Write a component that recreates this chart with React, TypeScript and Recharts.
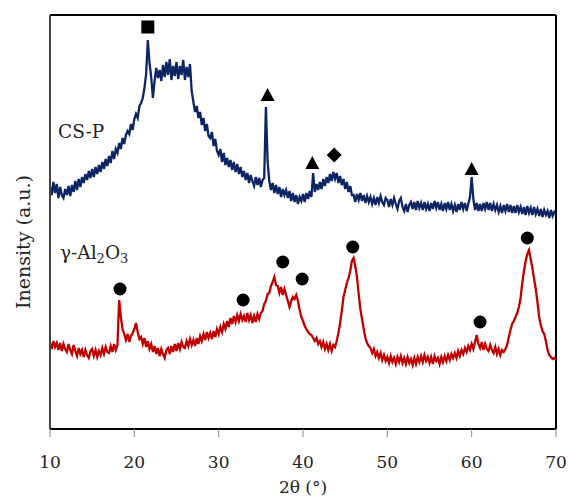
import React from 'react';
import {
  ComposedChart,
  Line,
  Scatter,
  XAxis,
  YAxis,
  ReferenceLine,
} from 'recharts';

// 2θ sampling of the digitised patterns: 10° to 70° every 0.2°
const angleStart = 10;
const angleStep = 0.2;

// CS-P intensity (a.u.), one value per 0.2°
const cspValues = [
  242, 234, 247, 236, 245, 231, 242, 234, 231, 240,
  234, 243, 233, 244, 237, 248, 239, 250, 242, 252,
  246, 255, 249, 258, 251, 260, 252, 262, 255, 264,
  257, 267, 260, 270, 263, 273, 266, 278, 270, 280,
  276, 286, 280, 291, 285, 294, 298, 295, 305, 299,
  310, 315, 311, 323, 326, 331, 341, 355, 389, 366,
  352, 331, 348, 361, 351, 359, 348, 364, 352, 367,
  354, 370, 349, 363, 353, 367, 350, 363, 354, 369,
  349, 362, 352, 365, 338, 327, 317, 323, 311, 317,
  304, 311, 298, 305, 293, 291, 297, 283, 290, 278,
  274, 280, 267, 276, 264, 271, 262, 269, 259, 267,
  257, 265, 255, 262, 252, 258, 249, 256, 246, 254,
  248, 243, 252, 244, 251, 242, 249, 251, 322, 268,
  248, 239, 246, 236, 244, 235, 242, 232, 240, 234,
  239, 231, 238, 228, 236, 227, 234, 225, 232, 228,
  235, 227, 236, 230, 238, 232, 256, 237, 245, 239,
  247, 240, 250, 243, 252, 246, 255, 248, 257, 250,
  256, 246, 253, 244, 250, 240, 247, 237, 243, 234,
  234, 227, 235, 229, 236, 228, 234, 226, 233, 227,
  232, 225, 231, 224, 232, 226, 233, 227, 224, 231,
  229, 222, 230, 224, 231, 225, 220, 228, 231, 222,
  218, 225, 217, 224, 227, 220, 227, 219, 228, 221,
  226, 219, 227, 220, 225, 218, 226, 220, 228, 221,
  227, 219, 225, 218, 226, 220, 227, 219, 225, 218,
  224, 217, 225, 219, 227, 220, 226, 218, 225, 232,
  252, 230, 219, 226, 218, 225, 218, 226, 220, 227,
  219, 226, 218, 225, 219, 224, 217, 223, 216, 224,
  218, 225, 217, 224, 216, 223, 216, 224, 217, 222,
  215, 222, 214, 223, 216, 221, 214, 222, 215, 220,
  213, 220, 212, 219, 214, 218, 211, 219, 213, 217,
  215,
];

// γ-Al2O3 intensity (a.u.), one value per 0.2°
const aluminaValues = [
  86, 80, 88, 82, 86, 79, 86, 78, 85, 80,
  77, 85, 79, 75, 84, 78, 73, 81, 75, 79,
  72, 79, 74, 71, 78, 80, 73, 79, 72, 78,
  74, 81, 75, 82, 77, 76, 83, 77, 85, 79,
  84, 129, 112, 100, 95, 89, 95, 87, 93, 96,
  100, 106, 97, 90, 92, 85, 91, 82, 88, 80,
  85, 77, 83, 75, 81, 73, 80, 75, 71, 79,
  81, 75, 83, 77, 85, 78, 86, 80, 87, 82,
  81, 88, 83, 90, 84, 89, 83, 91, 85, 93,
  88, 95, 89, 97, 91, 96, 90, 98, 92, 100,
  95, 102, 97, 105, 100, 108, 102, 111, 105, 113,
  107, 114, 108, 115, 109, 113, 107, 116, 109, 114,
  106, 113, 107, 115, 110, 116, 118, 125, 128, 135,
  136, 143, 147, 152, 144, 143, 136, 142, 134, 140,
  134, 128, 122, 128, 132, 130, 134, 128, 119, 112,
  108, 103, 100, 97, 95, 94, 91, 88, 91, 85,
  88, 82, 87, 80, 85, 79, 85, 78, 84, 82,
  88, 96, 106, 118, 132, 139, 146, 151, 158, 168,
  171, 163, 152, 135, 120, 110, 100, 91, 86, 83,
  81, 76, 80, 73, 77, 71, 76, 69, 74, 68,
  72, 66, 73, 67, 71, 65, 72, 67, 73, 66,
  71, 65, 72, 66, 70, 64, 71, 65, 72, 67,
  73, 67, 74, 68, 72, 66, 72, 65, 73, 68,
  71, 65, 72, 67, 73, 68, 74, 69, 75, 71,
  76, 71, 78, 73, 79, 75, 81, 77, 83, 79,
  85, 80, 87, 94, 85, 81, 87, 79, 85, 80,
  78, 84, 79, 76, 82, 75, 80, 74, 79, 77,
  80, 84, 92, 99, 105, 108, 112, 116, 122, 131,
  146, 158, 168, 175, 179, 170, 161, 150, 140, 127,
  112, 104, 98, 95, 88, 79, 74, 72, 70, 71,
  69,
];

// phase markers (angle in °, height in a.u.)
const squareMarks = [{ angle: 21.6, level: 402 }];
const triangleMarks = [
  { angle: 35.8, level: 334 },
  { angle: 41.1, level: 266 },
  { angle: 60.0, level: 260 },
];
const diamondMarks = [{ angle: 43.7, level: 274 }];
const circleMarks = [
  { angle: 18.3, level: 140 },
  { angle: 32.9, level: 129 },
  { angle: 37.6, level: 167 },
  { angle: 39.9, level: 150 },
  { angle: 45.9, level: 182 },
  { angle: 61.0, level: 107 },
  { angle: 66.6, level: 191 },
];

const xTicks = [10, 20, 30, 40, 50, 60, 70];

const chartData = cspValues.map((v, i) => ({
  angle: +(angleStart + i * angleStep).toFixed(1),
  csp: v,
  alumina: aluminaValues[i],
}));

const FONT = 'DejaVu Serif';

const Square = (p: any) => (
  <rect x={p.cx - 6.5} y={p.cy - 6.5} width={13} height={13} fill="#000" />
);
const Triangle = (p: any) => (
  <polygon
    points={`${p.cx},${p.cy - 7} ${p.cx - 7},${p.cy + 6} ${p.cx + 7},${p.cy + 6}`}
    fill="#000"
  />
);
const Diamond = (p: any) => (
  <polygon
    points={`${p.cx},${p.cy - 7.5} ${p.cx + 7.5},${p.cy} ${p.cx},${p.cy + 7.5} ${p.cx - 7.5},${p.cy}`}
    fill="#000"
  />
);
const Circle = (p: any) => <circle cx={p.cx} cy={p.cy} r={6.5} fill="#000" />;

export default function App() {
  return (
    <div style={{ position: 'absolute', left: 0, top: 0, width: 568, height: 496, background: '#fff' }}>
      <ComposedChart
        width={568}
        height={496}
        data={chartData}
        margin={{ top: 15, right: 12, bottom: 0, left: 0 }}
      >
        <XAxis
          type="number"
          dataKey="angle"
          domain={[10, 70]}
          ticks={xTicks}
          height={67}
          axisLine={{ stroke: '#000', strokeWidth: 2 }}
          tickLine={{ stroke: '#888' }}
          tickSize={8}
          tickMargin={19}
          tick={{ fontFamily: FONT, fontSize: 17, fill: '#222' }}
        />
        <YAxis
          type="number"
          domain={[0, 414]}
          width={50}
          tick={false}
          tickLine={false}
          axisLine={{ stroke: '#444', strokeWidth: 2 }}
        />
        <ReferenceLine y={414} stroke="#000" strokeWidth={2} />
        <ReferenceLine x={70} stroke="#000" strokeWidth={2} />
        <Line
          type="linear"
          dataKey="alumina"
          stroke="#c00000"
          strokeWidth={2.3}
          dot={false}
          isAnimationActive={false}
        />
        <Line
          type="linear"
          dataKey="csp"
          stroke="#0b2463"
          strokeWidth={2.3}
          dot={false}
          isAnimationActive={false}
        />
        <Scatter data={squareMarks} dataKey="level" shape={Square} isAnimationActive={false} />
        <Scatter data={triangleMarks} dataKey="level" shape={Triangle} isAnimationActive={false} />
        <Scatter data={diamondMarks} dataKey="level" shape={Diamond} isAnimationActive={false} />
        <Scatter data={circleMarks} dataKey="level" shape={Circle} isAnimationActive={false} />
      </ComposedChart>
      <svg
        width={568}
        height={496}
        style={{ position: 'absolute', left: 0, top: 0, pointerEvents: 'none' }}
        fontFamily={FONT}
        fill="#222"
      >
        <text x={58} y={138} fontSize={18.5}>CS-P</text>
        <text x={60} y={259} fontSize={18.5}>
          γ-Al<tspan fontSize={13} dy={4}>2</tspan>
          <tspan dy={-4}>O</tspan>
          <tspan fontSize={13} dy={4}>3</tspan>
        </text>
        <text transform="translate(30,242) rotate(-90)" textAnchor="middle" fontSize={19}>
          Inensity (a.u.)
        </text>
        <text x={303} y={493} textAnchor="middle" fontSize={17}>2θ (°)</text>
      </svg>
    </div>
  );
}
